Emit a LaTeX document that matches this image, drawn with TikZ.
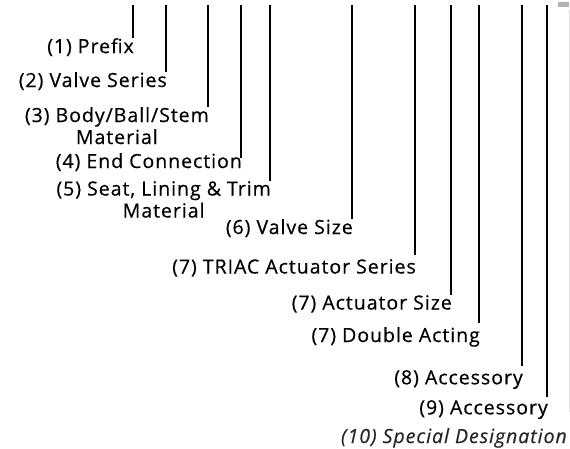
\documentclass[tikz,border=0pt]{standalone}
\usepackage{fontspec}
\setmainfont{Open Sans}[LetterSpace=5,FakeBold=0.5]
\usepackage{tikz}

\begin{document}
\begin{tikzpicture}[x=1pt,y=-1pt]
	\tikzstyle{every node}=[font=\fontsize{19.5}{22}\selectfont, inner sep=0pt]
	\tikzstyle{code label}=[anchor=north east, align=center]
	\tikzstyle{code line}=[line width=1.4pt]
	\useasboundingbox (0,0) rectangle (570,449);

	% top ends of the code lines
	\coordinate (t1) at (133,5);
	\coordinate (t2) at (166,5);
	\coordinate (t3) at (208,5);
	\coordinate (t4) at (241,5);
	\coordinate (t5) at (270,5);
	\coordinate (t6) at (352,5);
	\coordinate (t7) at (415,5);
	\coordinate (t8) at (451,5);
	\coordinate (t9) at (479,5);
	\coordinate (t10) at (522,5);
	\coordinate (t11) at (547,5);

	% labels
	\node [code label] (prefix) at (134,38) {(1) Prefix};
	\node [code label] (series) at (167,72) {(2) Valve Series};
	\node [code label] (body) at (209,107) {(3) Body/Ball/Stem\\Material};
	\node [code label] (endcon) at (242,153) {(4) End Connection};
	\node [code label] (seat) at (271,181) {(5) Seat, Lining \& Trim\\Material};
	\node [code label] (size) at (353,219) {(6) Valve Size};
	\node [code label] (triac) at (416,259) {(7) TRIAC Actuator Series};
	\node [code label] (actsize) at (452,295) {(7) Actuator Size};
	\node [code label] (double) at (480,327) {(7) Double Acting};
	\node [code label] (acc1) at (523,370) {(8) Accessory};
	\node [code label] (acc2) at (548,400) {(9) Accessory};
	\node [code label, text=black!85, font=\fontsize{19.5}{22}\selectfont\itshape] (special) at (567,428) {(10) Special Designation};

	% code lines
	\draw [code line] (t1) -- (t1 |- prefix.north east);
	\draw [code line] (t2) -- (t2 |- series.north east);
	\draw [code line] (t3) -- (t3 |- body.north east);
	\draw [code line] (t4) -- ([yshift=-5pt]t4 |- endcon.north east);
	\draw [code line] (t5) -- (t5 |- seat.north east);
	\draw [code line] (t6) -- (t6 |- size.north east);
	\draw [code line] (t7) -- ([yshift=4pt]t7 |- triac.north east);
	\draw [code line] (t8) -- (t8 |- actsize.north east);
	\draw [code line] (t9) -- ([yshift=4pt]t9 |- double.north east);
	\draw [code line] (t10) -- ([yshift=4pt]t10 |- acc1.north east);
	\draw [code line] (t11) -- ([yshift=3pt]t11 |- acc2.north east);

	% page edge
	\fill [black!30] (558,2) rectangle (569,7);
	\draw [black!12, thin] (569,10) -- (569,412);
\end{tikzpicture}
\end{document}
